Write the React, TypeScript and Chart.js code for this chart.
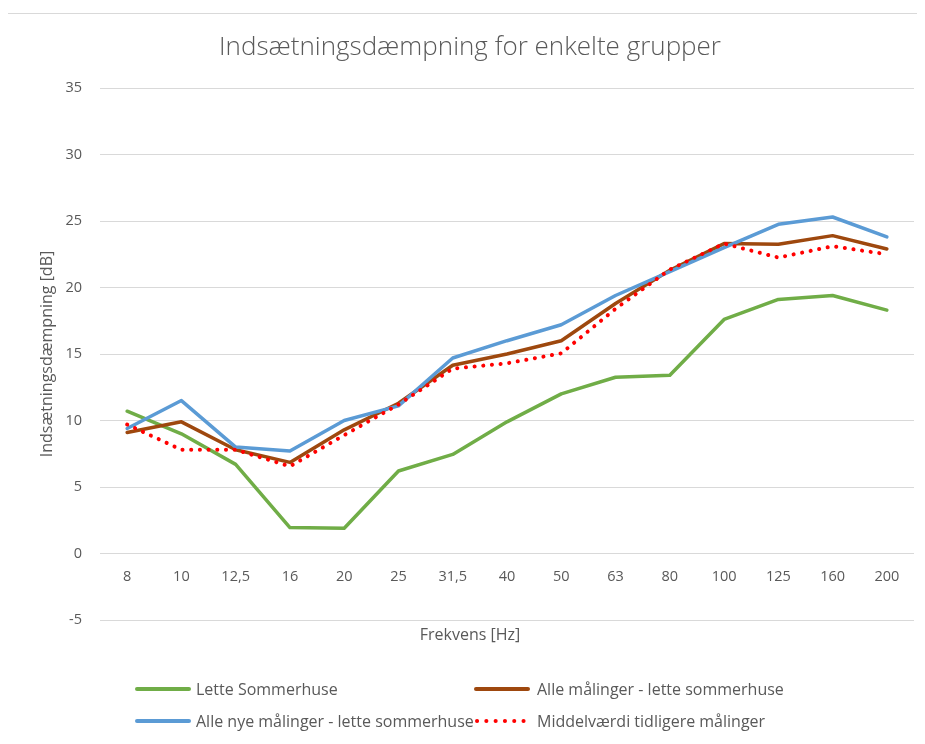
import React, { useEffect, useRef } from "react";
import { Chart, registerables } from "chart.js";

Chart.register(...registerables);

const categories = ["8", "10", "12,5", "16", "20", "25", "31,5", "40", "50", "63", "80", "100", "125", "160", "200"];

const letteSommerhuse = [10.7, 9.0, 6.7, 1.95, 1.9, 6.2, 7.45, 9.9, 12.0, 13.25, 13.4, 17.6, 19.1, 19.4, 18.3];
const alleMaalinger = [9.1, 9.9, 7.8, 6.85, 9.3, 11.3, 14.15, 15.0, 16.0, 18.8, 21.3, 23.3, 23.25, 23.9, 22.9];
const alleNyeMaalinger = [9.4, 11.5, 8.0, 7.7, 10.0, 11.1, 14.7, 16.0, 17.2, 19.4, 21.2, 23.0, 24.75, 25.3, 23.8];
const middelvaerdi = [9.7, 7.8, 7.8, 6.55, 8.9, 11.2, 13.9, 14.3, 15.05, 18.4, 21.35, 23.3, 22.25, 23.1, 22.5];

const seriesNames = [
  "Lette Sommerhuse",
  "Alle målinger - lette sommerhuse",
  "Alle nye målinger - lette sommerhuse",
  "Middelværdi tidligere målinger",
];

const titleText = "Indsætningsdæmpning for enkelte grupper";
const yTitle = "Indsætningsdæmpning [dB]";
const xTitle = "Frekvens [Hz]";

const FONT = "'Open Sans', 'Noto Sans', sans-serif";
const TEXT = "#595959";

export default function App() {
  const ref = useRef<HTMLCanvasElement | null>(null);

  useEffect(() => {
    if (!ref.current) return;
    const chart = new Chart(ref.current, {
      type: "line",
      data: {
        labels: categories,
        datasets: [
          { label: seriesNames[0], data: letteSommerhuse, borderColor: "#70AD47", backgroundColor: "#70AD47", borderWidth: 3.5, pointRadius: 0, order: 3, borderCapStyle: "round", borderJoinStyle: "round" },
          { label: seriesNames[1], data: alleMaalinger, borderColor: "#9E480E", backgroundColor: "#9E480E", borderWidth: 3.5, pointRadius: 0, order: 2, borderCapStyle: "round", borderJoinStyle: "round" },
          { label: seriesNames[2], data: alleNyeMaalinger, borderColor: "#5B9BD5", backgroundColor: "#5B9BD5", borderWidth: 3.5, pointRadius: 0, order: 1, borderCapStyle: "round", borderJoinStyle: "round" },
          { label: seriesNames[3], data: middelvaerdi, borderColor: "#FF0000", backgroundColor: "#FF0000", borderWidth: 4, pointRadius: 0, order: 0, borderDash: [0.1, 8.6], borderCapStyle: "round", borderJoinStyle: "round" },
        ],
      },
      options: {
        animation: false,
        responsive: false,
        maintainAspectRatio: false,
        layout: { padding: { left: 18, right: 11, top: 0, bottom: 90 } },
        plugins: {
          legend: { display: false },
          tooltip: { enabled: false },
          title: {
            display: true,
            text: titleText,
            color: TEXT,
            font: { family: FONT, size: 26, weight: "300" as any },
            padding: { top: 23.5, bottom: 25.3 },
          },
          subtitle: {
            display: true,
            position: "bottom",
            text: xTitle,
            color: TEXT,
            font: { family: FONT, size: 16, weight: "normal" as any },
            padding: { top: 5.4, bottom: 9.4 },
          },
        },
        scales: {
          x: {
            type: "category",
            position: { y: 0 } as any,
            offset: true,
            grid: { display: false, drawTicks: false },
            border: { display: false },
            ticks: { color: TEXT, font: { family: FONT, size: 14.5 }, padding: 14.3, maxRotation: 0, autoSkip: false },
            afterFit: (s: any) => { s.height = 0; },
          },
          y: {
            min: -5,
            max: 35,
            ticks: { stepSize: 5, color: TEXT, font: { family: FONT, size: 14.5 }, padding: 18 },
            grid: { color: "#D9D9D9", lineWidth: 1, drawTicks: false },
            border: { display: false },
            title: { display: true, text: yTitle, color: TEXT, font: { family: FONT, size: 16 }, padding: { top: 11.4, bottom: 0 } },
            afterFit: (s: any) => { s.width = 74; },
          },
        },
      },
    });
    return () => chart.destroy();
  }, []);

  const legendText: React.CSSProperties = {
    position: "absolute",
    fontFamily: FONT,
    fontSize: 16,
    color: TEXT,
    lineHeight: "20px",
    whiteSpace: "nowrap",
  };

  const lineSym = (x: number, y: number, color: string, dotted = false) => (
    <svg style={{ position: "absolute", left: x, top: y - 5 }} width={56} height={10}>
      {dotted ? (
        <line x1={3} y1={5} x2={54} y2={5} stroke={color} strokeWidth={4} strokeLinecap="round" strokeDasharray="0.1 9.2" />
      ) : (
        <line x1={2} y1={5} x2={54} y2={5} stroke={color} strokeWidth={4} strokeLinecap="round" />
      )}
    </svg>
  );

  return (
    <div style={{ position: "relative", width: 917, height: 736 }}>
      <div style={{ position: "absolute", left: -1, top: 5, width: 940, height: 800, border: "1.5px solid #D9D9D9", boxSizing: "border-box" }} />
      <canvas ref={ref} width={917} height={736} style={{ position: "absolute", left: 0, top: 0, width: 917, height: 736 }} />
      {lineSym(127, 681, "#70AD47")}
      <div style={{ ...legendText, left: 188, top: 671 }}>{seriesNames[0]}</div>
      {lineSym(466, 681, "#9E480E")}
      <div style={{ ...legendText, left: 529, top: 671 }}>{seriesNames[1]}</div>
      {lineSym(127, 713, "#5B9BD5")}
      <div style={{ ...legendText, left: 188, top: 703 }}>{seriesNames[2]}</div>
      {lineSym(466, 713, "#FF0000", true)}
      <div style={{ ...legendText, left: 529, top: 703 }}>{seriesNames[3]}</div>
    </div>
  );
}
